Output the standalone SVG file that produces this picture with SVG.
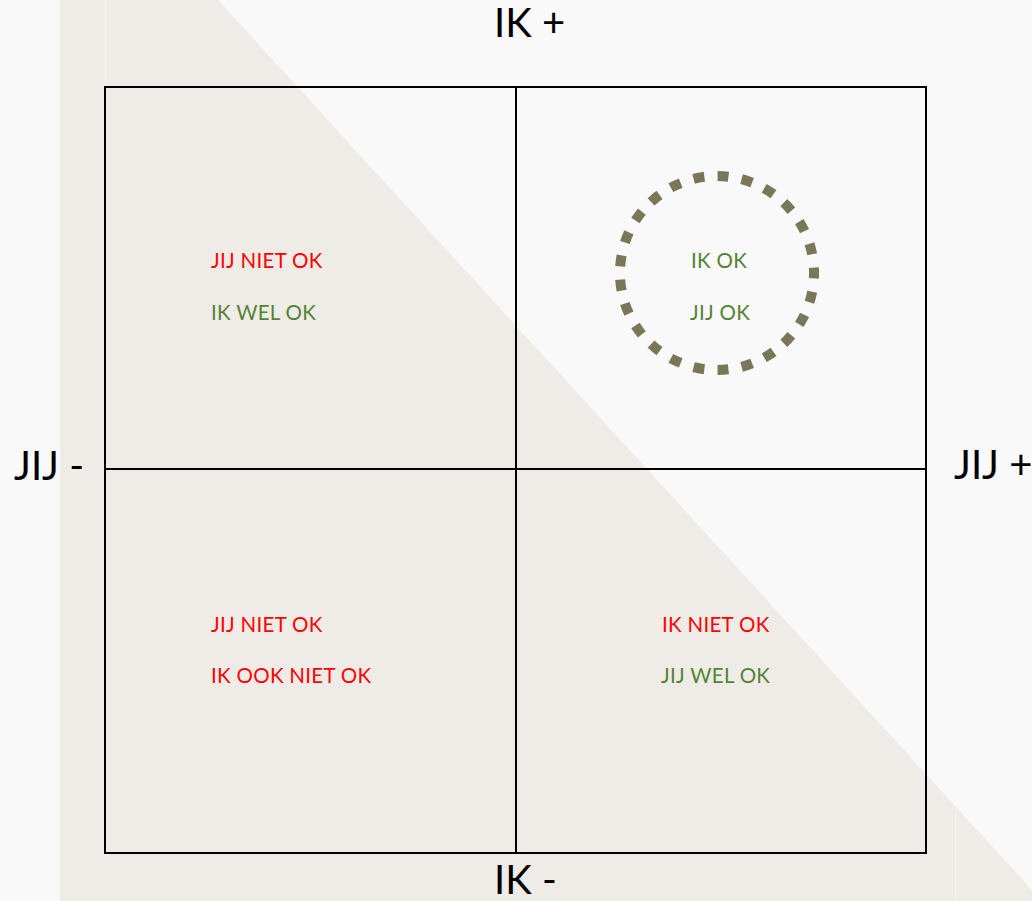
<svg xmlns="http://www.w3.org/2000/svg" width="1032" height="901" viewBox="0 0 1032 901">
<style>
.axis{font-family:Lato,"Liberation Sans",sans-serif;font-size:40px;fill:#000}
.lbl{font-family:Lato,"Liberation Sans",sans-serif;font-size:20.5px;letter-spacing:0.3px}
.red{fill:#ff0000}
.grn{fill:#548235}
.grid{stroke:#000;stroke-width:2;fill:none}
</style>
<rect x="0" y="0" width="1032" height="901" fill="#f9f9f9"/>
<polygon points="60,0 218,0 1032,890 1032,901 60,901" fill="#efece7"/>
<line x1="105.5" y1="0" x2="105.5" y2="87" stroke="#f6f4f1" stroke-width="1"/>
<line x1="955.5" y1="810" x2="955.5" y2="901" stroke="#f6f4f1" stroke-width="1"/>
<g id="connectors">
<rect class="grid" x="105" y="87" width="821" height="766"/>
<line class="grid" x1="516" y1="87" x2="516" y2="853"/>
<line class="grid" x1="105" y1="469" x2="926" y2="469"/>
</g>
<g id="axis-top"><text class="axis" x="494" y="37">IK +</text></g>
<g id="axis-bottom"><text class="axis" x="494" y="894">IK -</text></g>
<g id="axis-left"><text class="axis" x="14" y="480">JIJ -</text></g>
<g id="axis-right"><text class="axis" x="954" y="479">JIJ +</text></g>
<g id="q-topleft">
<text class="lbl red" x="211" y="268">JIJ NIET OK</text>
<text class="lbl grn" x="211" y="320">IK WEL OK</text>
</g>
<g id="q-topright">
<circle cx="717" cy="273" r="97" fill="none" stroke="#7a7759" stroke-width="10" pathLength="100" stroke-dasharray="1.8 2.2" stroke-dashoffset="0.9"/>
<text class="lbl grn" x="691" y="268">IK OK</text>
<text class="lbl grn" x="690" y="320">JIJ OK</text>
</g>
<g id="q-bottomleft">
<text class="lbl red" x="211" y="632">JIJ NIET OK</text>
<text class="lbl red" x="211" y="683">IK OOK NIET OK</text>
</g>
<g id="q-bottomright">
<text class="lbl red" x="662" y="632">IK NIET OK</text>
<text class="lbl grn" x="661" y="683">JIJ WEL OK</text>
</g>
</svg>
